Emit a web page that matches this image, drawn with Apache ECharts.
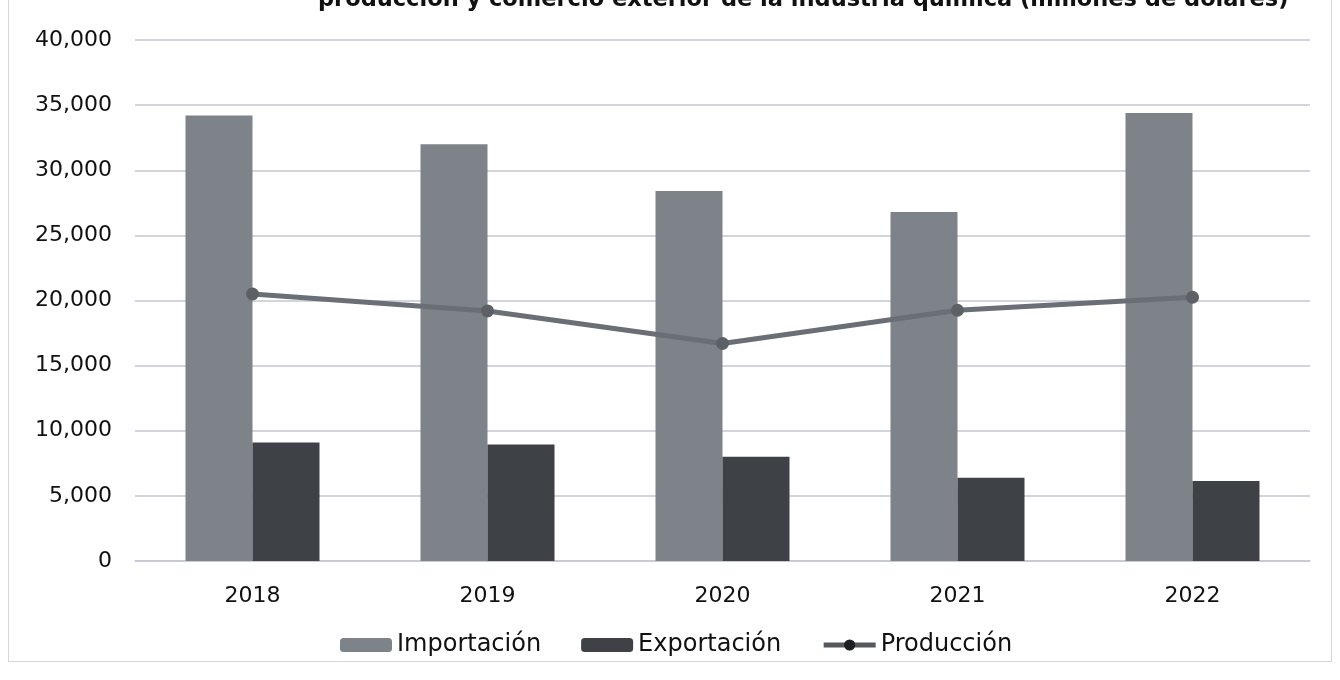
<!DOCTYPE html>
<html>
<head>
<meta charset="utf-8">
<script src="https://cdn.jsdelivr.net/npm/echarts@6/dist/echarts.min.js"></script>
<style>
  html, body { margin: 0; padding: 0; background: #fff; }
  #main { position: absolute; left: 0; top: 0; width: 1340px; height: 680px; }
  #frame { position: absolute; left: 8px; top: -2px; width: 1322px; height: 662px; border: 1px solid #d6d6d6; }
</style>
</head>
<body>
<div id="frame"></div>
<div id="main"></div>
<script>
var years = ['2018', '2019', '2020', '2021', '2022'];
var importacion = [34200, 32000, 28400, 26800, 34400];
var exportacion = [9100, 8950, 8000, 6400, 6150];
var produccion = [20500, 19200, 16700, 19250, 20250];
var yTicks = [0, 5000, 10000, 15000, 20000, 25000, 30000, 35000, 40000];

var myChart = echarts.init(document.getElementById('main'));

var labelFont = '"DejaVu Sans", sans-serif';

option = {
    backgroundColor: 'transparent',
    animation: false,
    title: {
        text: 'producción y comercio exterior de la industria química (millones de dólares)',
        left: 313,
        top: -16,
        textStyle: {
            fontFamily: '"DejaVu Sans", sans-serif',
            fontWeight: 'bold',
            fontSize: 22.5,
            color: '#111'
        }
    },
    grid: {
        left: 135,
        right: 30,
        top: 40,
        bottom: 119
    },
    legend: {
        left: 335,
        top: 628,
        itemWidth: 52,
        itemHeight: 14,
        itemGap: 40,
        textStyle: {
            fontFamily: labelFont,
            fontSize: 24,
            color: '#111'
        },
        data: ['Importación', 'Exportación', {
            name: 'Producción',
            itemStyle: { color: '#1f1f22' },
            lineStyle: { color: '#55595f', width: 5 }
        }]
    },
    xAxis: {
        type: 'category',
        data: years,
        axisTick: { show: false },
        axisLine: { lineStyle: { color: '#c5c7d3', width: 1.5 } },
        axisLabel: {
            margin: 24,
            fontFamily: labelFont,
            fontSize: 22,
            color: '#111'
        }
    },
    yAxis: {
        type: 'value',
        min: yTicks[0],
        max: yTicks[yTicks.length - 1],
        interval: 5000,
        axisLine: { show: false },
        axisTick: { show: false },
        axisLabel: {
            margin: 23,
            fontFamily: labelFont,
            fontSize: 22,
            color: '#111',
            formatter: function (v) { return v.toLocaleString('en-US'); }
        },
        splitLine: { lineStyle: { color: '#c5c7d3', width: 1.5 } }
    },
    series: [{
        name: 'Importación',
        type: 'bar',
        data: importacion,
        barWidth: 67,
        barGap: '0%',
        itemStyle: { color: '#7e8289' }
    }, {
        name: 'Exportación',
        type: 'bar',
        data: exportacion,
        barWidth: 67,
        itemStyle: { color: '#3e4146' }
    }, {
        name: 'Producción',
        type: 'line',
        data: produccion,
        symbol: 'circle',
        symbolSize: 13,
        lineStyle: { color: '#6a6e75', width: 5 },
        itemStyle: { color: '#5d6167' }
    }]
};

myChart.setOption(option);
</script>
</body>
</html>
